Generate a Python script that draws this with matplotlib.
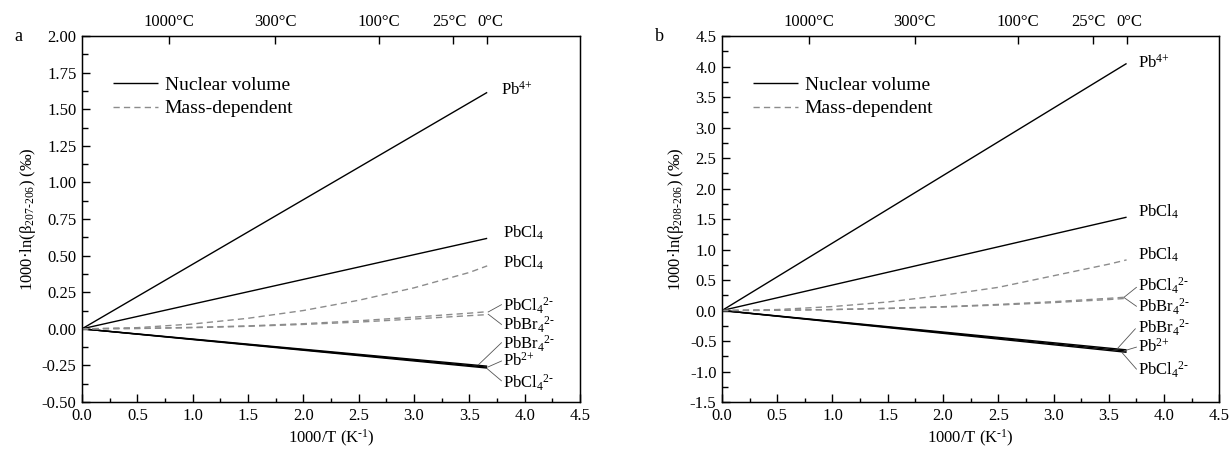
import numpy as np
import matplotlib
matplotlib.use("Agg")
import matplotlib.pyplot as plt
import matplotlib.transforms as mtransforms
from matplotlib.lines import Line2D
from matplotlib.ticker import MultipleLocator, FormatStrFormatter

plt.rcParams['font.family'] = ['Liberation Serif', 'DejaVu Serif']
plt.rcParams['mathtext.fontset'] = 'custom'
plt.rcParams['mathtext.rm'] = 'Liberation Serif'
plt.rcParams['mathtext.default'] = 'regular'
plt.rcParams['axes.unicode_minus'] = False

# --- data (1000/T in K^-1) ---
x_nv = [0.0, 3.661]                       # nuclear volume: straight lines to 0 degC
x_md = [0.0, 0.5, 1.0, 1.5, 2.0, 2.5, 3.0, 3.5, 3.661]

# panel a: 207Pb-206Pb
a_pb4_nv = [0.0, 1.615]
a_pbcl4_nv = [0.0, 0.618]
a_pbbr4_2_nv = [0.0, -0.255]
a_pb2_nv = [0.0, -0.262]
a_pbcl4_2_nv = [0.0, -0.268]
a_pbcl4_md = [0.0, 0.008, 0.033, 0.072, 0.125, 0.195, 0.28, 0.385, 0.43]
a_pbcl4_2_md = [0.0, 0.003, 0.010, 0.020, 0.035, 0.055, 0.080, 0.107, 0.117]
a_pbbr4_2_md = [0.0, 0.002, 0.008, 0.017, 0.030, 0.046, 0.067, 0.090, 0.097]

# panel b: 208Pb-206Pb
b_pb4_nv = [0.0, 4.05]
b_pbcl4_nv = [0.0, 1.53]
b_pbbr4_2_nv = [0.0, -0.645]
b_pb2_nv = [0.0, -0.665]
b_pbcl4_2_nv = [0.0, -0.685]
b_pbcl4_md = [0.0, 0.016, 0.065, 0.14, 0.25, 0.38, 0.57, 0.76, 0.83]
b_pbcl4_2_md = [0.0, 0.004, 0.017, 0.037, 0.063, 0.10, 0.145, 0.20, 0.22]
b_pbbr4_2_md = [0.0, 0.004, 0.015, 0.033, 0.057, 0.09, 0.13, 0.18, 0.20]

temps_C = [1000, 300, 100, 25, 0]
temp_labels = ['1000°C', '300°C', '100°C', '25°C', '0°C']

NV = dict(color='black', lw=1.0, solid_capstyle='butt')
MD = dict(color='#8c8c8c', lw=1.0, linestyle=(0, (4.5, 3)))
LEAD = dict(color='#555555', lw=0.6)
FS = 12


def draw_panel(ax, nv, md, ylim, ymaj, ymin, yfmt, ylabel, letter, texts, leaders):
    for ys in nv:
        ax.plot(x_nv, ys, **NV)
    for ys in md:
        ax.plot(x_md, ys, **MD)

    ax.set_xlim(0, 4.5)
    ax.set_ylim(*ylim)
    ax.xaxis.set_major_locator(MultipleLocator(0.5))
    ax.xaxis.set_minor_locator(MultipleLocator(0.25))
    ax.xaxis.set_major_formatter(FormatStrFormatter('%.1f'))
    ax.yaxis.set_major_locator(MultipleLocator(ymaj))
    ax.yaxis.set_minor_locator(MultipleLocator(ymin))
    ax.yaxis.set_major_formatter(FormatStrFormatter(yfmt))
    ax.tick_params(which='both', direction='in', top=False, right=False,
                   labelsize=FS, width=1.0)
    ax.tick_params(axis='x', which='major', length=5.5, pad=4)
    ax.tick_params(axis='x', which='minor', length=3)
    ax.tick_params(axis='y', which='major', length=6, pad=4)
    ax.tick_params(axis='y', which='minor', length=4)
    for s in ax.spines.values():
        s.set_linewidth(1.0)

    ax.set_xlabel('1000/T (K$^{\\text{-1}}$)', fontsize=FS, labelpad=3)
    ax.set_ylabel(ylabel, fontsize=FS, labelpad=3)

    top = ax.twiny()
    top.set_xlim(ax.get_xlim())
    top.set_xticks([1000.0 / (t + 273.15) for t in temps_C])
    top.set_xticklabels(temp_labels)
    top.tick_params(direction='in', length=5.5, width=1.0, labelsize=FS, pad=4)
    top.xaxis.set_minor_locator(plt.NullLocator())
    # nudge the two crowded labels apart, as in the original
    labs = top.get_xticklabels()
    for lab, dx in [(labs[3], -4), (labs[4], 3)]:
        off = mtransforms.ScaledTranslation(dx / 100.0, 0, fig.dpi_scale_trans)
        lab.set_transform(lab.get_transform() + off)

    handles = [Line2D([], [], **NV), Line2D([], [], **MD)]
    ax.legend(handles, ['Nuclear volume', 'Mass-dependent'], loc='upper left',
              bbox_to_anchor=(0.063, 0.89), frameon=False, fontsize=14,
              handlelength=2.3, handletextpad=0.35, borderpad=0,
              borderaxespad=0, labelspacing=0.3)

    for (tx, ty, s) in texts:
        ax.text(tx, ty, s, fontsize=FS, ha='left', va='center')
    for (x0, y0, x1, y1) in leaders:
        ax.plot([x0, x1], [y0, y1], **LEAD)

    ax.text(-0.135, 1.0, letter, transform=ax.transAxes, fontsize=13,
            ha='left', va='center')


fig = plt.figure(figsize=(12.31, 4.51), dpi=100)
ax_a = fig.add_axes([0.0666, 0.1086, 0.4046, 0.8115])
ax_b = fig.add_axes([0.5865, 0.1086, 0.4040, 0.8115])

draw_panel(
    ax_a,
    [a_pb4_nv, a_pbcl4_nv, a_pbbr4_2_nv, a_pb2_nv, a_pbcl4_2_nv],
    [a_pbcl4_md, a_pbcl4_2_md, a_pbbr4_2_md],
    (-0.5, 2.0), 0.25, 0.125, '%.2f',
    '1000·ln(β$_{\\text{207-206}}$) (‰)', 'a',
    [(3.79, 1.63, 'Pb$^{\\text{4+}}$'),
     (3.80, 0.655, 'PbCl$_4$'),
     (3.80, 0.45, 'PbCl$_4$'),
     (3.80, 0.16, 'PbCl$_4$$^{\\text{2-}}$'),
     (3.80, 0.03, 'PbBr$_4$$^{\\text{2-}}$'),
     (3.80, -0.10, 'PbBr$_4$$^{\\text{2-}}$'),
     (3.80, -0.22, 'Pb$^{\\text{2+}}$'),
     (3.80, -0.37, 'PbCl$_4$$^{\\text{2-}}$')],
    [(3.67, 0.115, 3.79, 0.165),
     (3.67, 0.100, 3.79, 0.030),
     (3.58, -0.247, 3.79, -0.095),
     (3.67, -0.260, 3.79, -0.22),
     (3.66, -0.272, 3.79, -0.355)])

draw_panel(
    ax_b,
    [b_pb4_nv, b_pbcl4_nv, b_pbbr4_2_nv, b_pb2_nv, b_pbcl4_2_nv],
    [b_pbcl4_md, b_pbcl4_2_md, b_pbbr4_2_md],
    (-1.5, 4.5), 0.5, 0.25, '%.1f',
    '1000·ln(β$_{\\text{208-206}}$) (‰)', 'b',
    [(3.76, 4.06, 'Pb$^{\\text{4+}}$'),
     (3.76, 1.615, 'PbCl$_4$'),
     (3.76, 0.91, 'PbCl$_4$'),
     (3.76, 0.41, 'PbCl$_4$$^{\\text{2-}}$'),
     (3.76, 0.06, 'PbBr$_4$$^{\\text{2-}}$'),
     (3.76, -0.28, 'PbBr$_4$$^{\\text{2-}}$'),
     (3.76, -0.6, 'Pb$^{\\text{2+}}$'),
     (3.76, -0.98, 'PbCl$_4$$^{\\text{2-}}$')],
    [(3.64, 0.22, 3.75, 0.38),
     (3.64, 0.21, 3.75, 0.07),
     (3.58, -0.62, 3.74, -0.30),
     (3.64, -0.66, 3.75, -0.60),
     (3.62, -0.69, 3.75, -0.96)])

fig.savefig('out.png', dpi=100)
